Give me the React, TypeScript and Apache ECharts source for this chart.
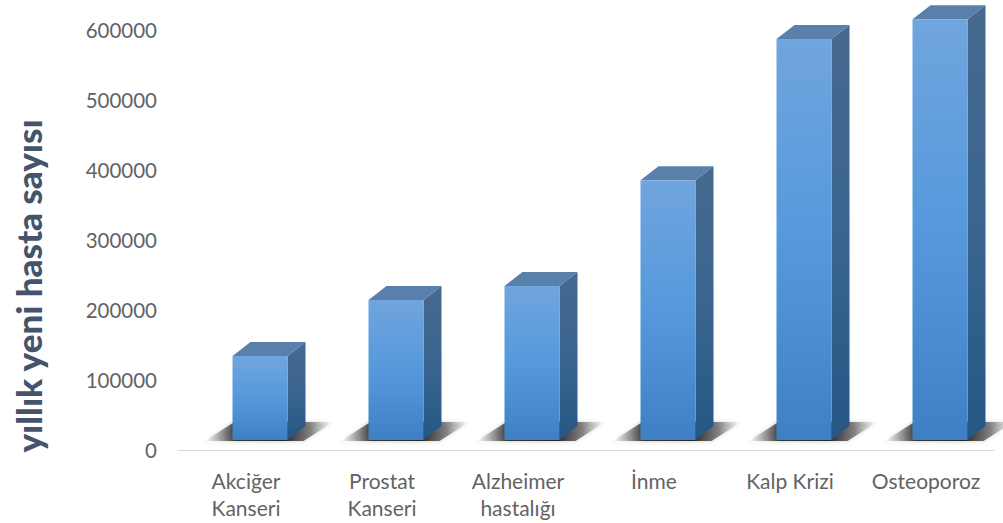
import React, { useEffect, useRef } from "react";
import * as echarts from "echarts";

const categories = [
  "Akciğer\nKanseri",
  "Prostat\nKanseri",
  "Alzheimer\nhastalığı",
  "İnme",
  "Kalp Krizi",
  "Osteoporoz",
];
const patients = [120000, 200000, 220000, 371000, 573000, 601000];
const axisTitle = "yıllık yeni hasta sayısı";

const FONT = "Lato, 'Noto Sans', sans-serif";
const FRONT_W = 55;
const FRONT_SHIFT = 14; // columns sit right of the band centre
const DEPTH_X = 18;
const DEPTH_Y = 14;
const FLOOR_LIFT = 10; // the 3D floor is above the axis line

const vertical = (stops: [number, string][]) =>
  new echarts.graphic.LinearGradient(
    0,
    0,
    0,
    1,
    stops.map(([offset, color]) => ({ offset, color })),
  );

const horizontal = (stops: [number, string][]) =>
  new echarts.graphic.LinearGradient(
    0,
    0,
    1,
    0,
    stops.map(([offset, color]) => ({ offset, color })),
  );

// One column: floor shadow, side face, top face, front face.
function renderColumn(_params: any, api: any) {
  const top = api.coord([api.value(0), api.value(1)]);
  const base = api.coord([api.value(0), 0]);
  const left = top[0] + FRONT_SHIFT - FRONT_W / 2;
  const right = left + FRONT_W;
  const topY = top[1] - FLOOR_LIFT;
  const floorY = base[1] - FLOOR_LIFT;

  return {
    type: "group",
    children: [
      {
        type: "polygon",
        shape: {
          points: [
            [left - 28, floorY + 1],
            [left + 2, floorY - 18],
            [right + 46, floorY - 18],
            [right + 16, floorY + 1],
          ],
        },
        style: {
          fill: horizontal([
            [0, "rgba(110,110,110,0)"],
            [0.12, "rgba(80,80,80,0.45)"],
            [0.24, "rgba(40,40,40,0.9)"],
            [0.62, "rgba(30,30,30,0.95)"],
            [0.82, "rgba(70,70,70,0.6)"],
            [1, "rgba(140,140,140,0)"],
          ]),
          shadowBlur: 4,
          shadowColor: "rgba(60,60,60,0.35)",
        },
      },
      {
        type: "polygon",
        shape: {
          points: [
            [right, topY],
            [right + DEPTH_X, topY - DEPTH_Y],
            [right + DEPTH_X, floorY - DEPTH_Y],
            [right, floorY],
          ],
        },
        style: {
          fill: vertical([
            [0, "#47698f"],
            [0.5, "#3a6590"],
            [1, "#255785"],
          ]),
        },
      },
      {
        type: "polygon",
        shape: {
          points: [
            [left, topY],
            [left + DEPTH_X, topY - DEPTH_Y],
            [right + DEPTH_X, topY - DEPTH_Y],
            [right, topY],
          ],
        },
        style: { fill: "#5880ab" },
      },
      {
        type: "rect",
        shape: { x: left, y: topY, width: FRONT_W, height: floorY - topY },
        style: {
          fill: vertical([
            [0, "#70a5de"],
            [0.5, "#5599dc"],
            [1, "#3f80c5"],
          ]),
        },
      },
    ],
  };
}

export default function App() {
  const ref = useRef<HTMLDivElement>(null);

  useEffect(() => {
    const chart = echarts.init(ref.current!, undefined, { renderer: "svg" });
    chart.setOption({
      animation: false,
      backgroundColor: "#ffffff",
      textStyle: { fontFamily: FONT },
      grid: { left: 178, top: 30, width: 816, height: 420, containLabel: false },
      xAxis: {
        type: "category",
        data: categories,
        axisTick: { show: false },
        axisLine: { lineStyle: { color: "#d9d9d9", width: 1 } },
        axisLabel: {
          color: "#636363",
          fontFamily: FONT,
          fontSize: 21,
          lineHeight: 27,
          margin: 17,
          interval: 0,
        },
      },
      yAxis: {
        type: "value",
        min: 0,
        max: 600000,
        interval: 100000,
        splitLine: { show: false },
        axisLine: { show: false },
        axisTick: { show: false },
        axisLabel: {
          color: "#636363",
          fontFamily: FONT,
          fontSize: 20.5,
          margin: 21,
          formatter: (v: number) => String(v),
        },
      },
      graphic: [
        {
          type: "text",
          x: 28,
          y: 286,
          rotation: Math.PI / 2,
          style: {
            text: axisTitle,
            fontFamily: FONT,
            fontSize: 35,
            fontWeight: 900,
            fill: "#44546a",
            textAlign: "center",
            textVerticalAlign: "middle",
          },
        },
      ],
      series: [
        {
          type: "custom",
          renderItem: renderColumn,
          clip: false,
          encode: { x: 0, y: 1 },
          data: patients.map((v, i) => [i, v]),
        },
      ],
    });
    return () => chart.dispose();
  }, []);

  return (
    <div
      ref={ref}
      style={{ position: "fixed", left: 0, top: 0, width: 1003, height: 523 }}
    />
  );
}
